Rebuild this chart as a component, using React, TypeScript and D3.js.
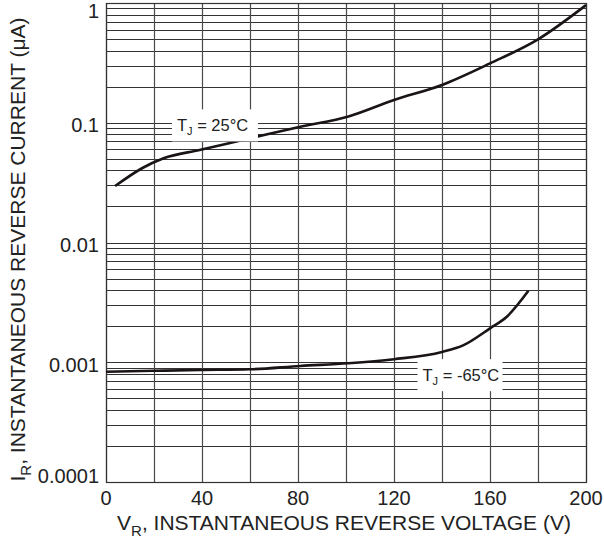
import React, { useRef, useEffect } from 'react';
import * as d3 from 'd3';

// curves (V, uA)
const volts25 = [3.8, 15, 24, 39, 60, 81, 101, 120, 140, 160, 180, 200];
const amps25 = [0.0296, 0.0417, 0.0505, 0.0592, 0.0741, 0.0927, 0.113, 0.155, 0.207, 0.313, 0.497, 0.96];

const voltsM65 = [0, 20, 39, 60, 81, 101, 120, 140, 149, 160, 167, 176];
const ampsM65 = [0.000834, 0.000848, 0.000861, 0.000873, 0.000931, 0.00098, 0.00106, 0.00122, 0.00139, 0.00192, 0.0024, 0.00395];

const xTicks = [0, 40, 80, 120, 160, 200];
const yTicks = [1, 0.1, 0.01, 0.001, 0.0001];
const yTickLabels = ['1', '0.1', '0.01', '0.001', '0.0001'];

const labelTexts = ['= 25°C', '= -65°C'];
const labelV = [45.4, 147.5];
const labelI = [0.095, 0.00078];

const App = () => {
  const ref = useRef<SVGSVGElement>(null);

  useEffect(() => {
    const margin = { top: 3, right: 18, bottom: 60, left: 106 };
    const W = 604;
    const H = 542;
    const width = W - margin.left - margin.right;
    const height = H - margin.top - margin.bottom;
    const font = 'Liberation Sans, Arial, sans-serif';

    const root = d3.select(ref.current);
    root.selectAll('*').remove();
    root.attr('width', W).attr('height', H);

    const svg = root.append('g').attr('transform', `translate(${margin.left},${margin.top})`);

    const x = d3.scaleLinear().domain([0, 200]).range([0, width]);
    const y = d3.scaleLog().domain([0.0001, 1]).range([height, 0]);

    // horizontal grid: every 1..9 per decade
    const minor: number[] = [];
    for (let e = -4; e < 0; e++) {
      for (let m = 1; m < 10; m++) minor.push(m * Math.pow(10, e));
    }
    svg
      .selectAll('.hgrid')
      .data(minor)
      .enter()
      .append('line')
      .attr('x1', 0)
      .attr('x2', width)
      .attr('y1', (d) => Math.round(y(d)) + 0.5)
      .attr('y2', (d) => Math.round(y(d)) + 0.5)
      .attr('stroke', '#333')
      .attr('stroke-width', 1.1);

    const vgrid = d3.range(0, 201, 20);
    svg
      .selectAll('.vgrid')
      .data(vgrid)
      .enter()
      .append('line')
      .attr('x1', (d) => Math.round(x(d)) + 0.5)
      .attr('x2', (d) => Math.round(x(d)) + 0.5)
      .attr('y1', 0)
      .attr('y2', height)
      .attr('stroke', '#4a4a4a')
      .attr('stroke-width', 1.2);

    svg
      .append('rect')
      .attr('x', 0.5)
      .attr('y', 0.5)
      .attr('width', width)
      .attr('height', height)
      .attr('fill', 'none')
      .attr('stroke', '#333')
      .attr('stroke-width', 1.2);

    const line = d3
      .line<[number, number]>()
      .x((d) => x(d[0]))
      .y((d) => y(d[1]))
      .curve(d3.curveMonotoneX);

    svg
      .append('path')
      .datum(volts25.map((v, i) => [v, amps25[i]] as [number, number]))
      .attr('d', line)
      .attr('fill', 'none')
      .attr('stroke', '#1a1414')
      .attr('stroke-width', 2.6);

    svg
      .append('path')
      .datum(voltsM65.map((v, i) => [v, ampsM65[i]] as [number, number]))
      .attr('d', line)
      .attr('fill', 'none')
      .attr('stroke', '#1a1414')
      .attr('stroke-width', 2.6);

    // curve labels with white boxes
    labelTexts.forEach((t, i) => {
      const cx = x(labelV[i]);
      const cy = y(labelI[i]);
      const g = svg.append('g').attr('transform', `translate(${cx},${cy})`);
      const wBox = i === 0 ? 86 : 85;
      g.append('rect')
        .attr('x', -wBox / 2)
        .attr('y', -16)
        .attr('width', wBox)
        .attr('height', 32)
        .attr('fill', '#fff');
      const txt = g
        .append('text')
        .attr('x', -wBox / 2 + 5)
        .attr('y', 6)
        .attr('font-family', font)
        .attr('font-size', 16.5)
        .attr('fill', '#222');
      txt.append('tspan').text('T');
      txt.append('tspan').attr('font-size', 11).attr('dy', 4).text('J');
      txt.append('tspan').attr('dy', -4).text(' ' + t);
    });

    // x ticks
    svg
      .selectAll('.xt')
      .data(xTicks)
      .enter()
      .append('text')
      .attr('x', (d) => x(d))
      .attr('y', height + 23)
      .attr('text-anchor', 'middle')
      .attr('font-family', font)
      .attr('font-size', 20)
      .attr('fill', '#222')
      .text((d) => String(d));

    // y ticks
    svg
      .selectAll('.yt')
      .data(yTicks)
      .enter()
      .append('text')
      .attr('x', -7)
      .attr('y', (d, i) => y(d) + (i === 0 ? 15 : i === yTicks.length - 1 ? 0.5 : 9.5))
      .attr('text-anchor', 'end')
      .attr('font-family', font)
      .attr('font-size', 20)
      .attr('fill', '#222')
      .text((d, i) => yTickLabels[i]);

    // axis titles
    const xt = svg
      .append('text')
      .attr('x', width / 2 - 2)
      .attr('y', height + 48)
      .attr('text-anchor', 'middle')
      .attr('font-family', font)
      .attr('font-size', 21)
      .attr('fill', '#222');
    xt.append('tspan').text('V');
    xt.append('tspan').attr('font-size', 15).attr('dy', 6).text('R');
    xt.append('tspan').attr('dy', -6).text(', INSTANTANEOUS REVERSE VOLTAGE (V)');

    const yt = root
      .append('text')
      .attr('transform', `translate(25,${margin.top + height / 2 + 7}) rotate(-90)`)
      .attr('text-anchor', 'middle')
      .attr('font-family', font)
      .attr('font-size', 21)
      .attr('fill', '#222');
    yt.append('tspan').text('I');
    yt.append('tspan').attr('font-size', 15).attr('dy', 6).text('R');
    yt.append('tspan').attr('dy', -6).text(', INSTANTANEOUS REVERSE CURRENT (μA)');
  }, []);

  return (
    <div style={{ position: 'absolute', left: 0, top: 0, background: '#fff' }}>
      <svg ref={ref}></svg>
    </div>
  );
};

export default App;
